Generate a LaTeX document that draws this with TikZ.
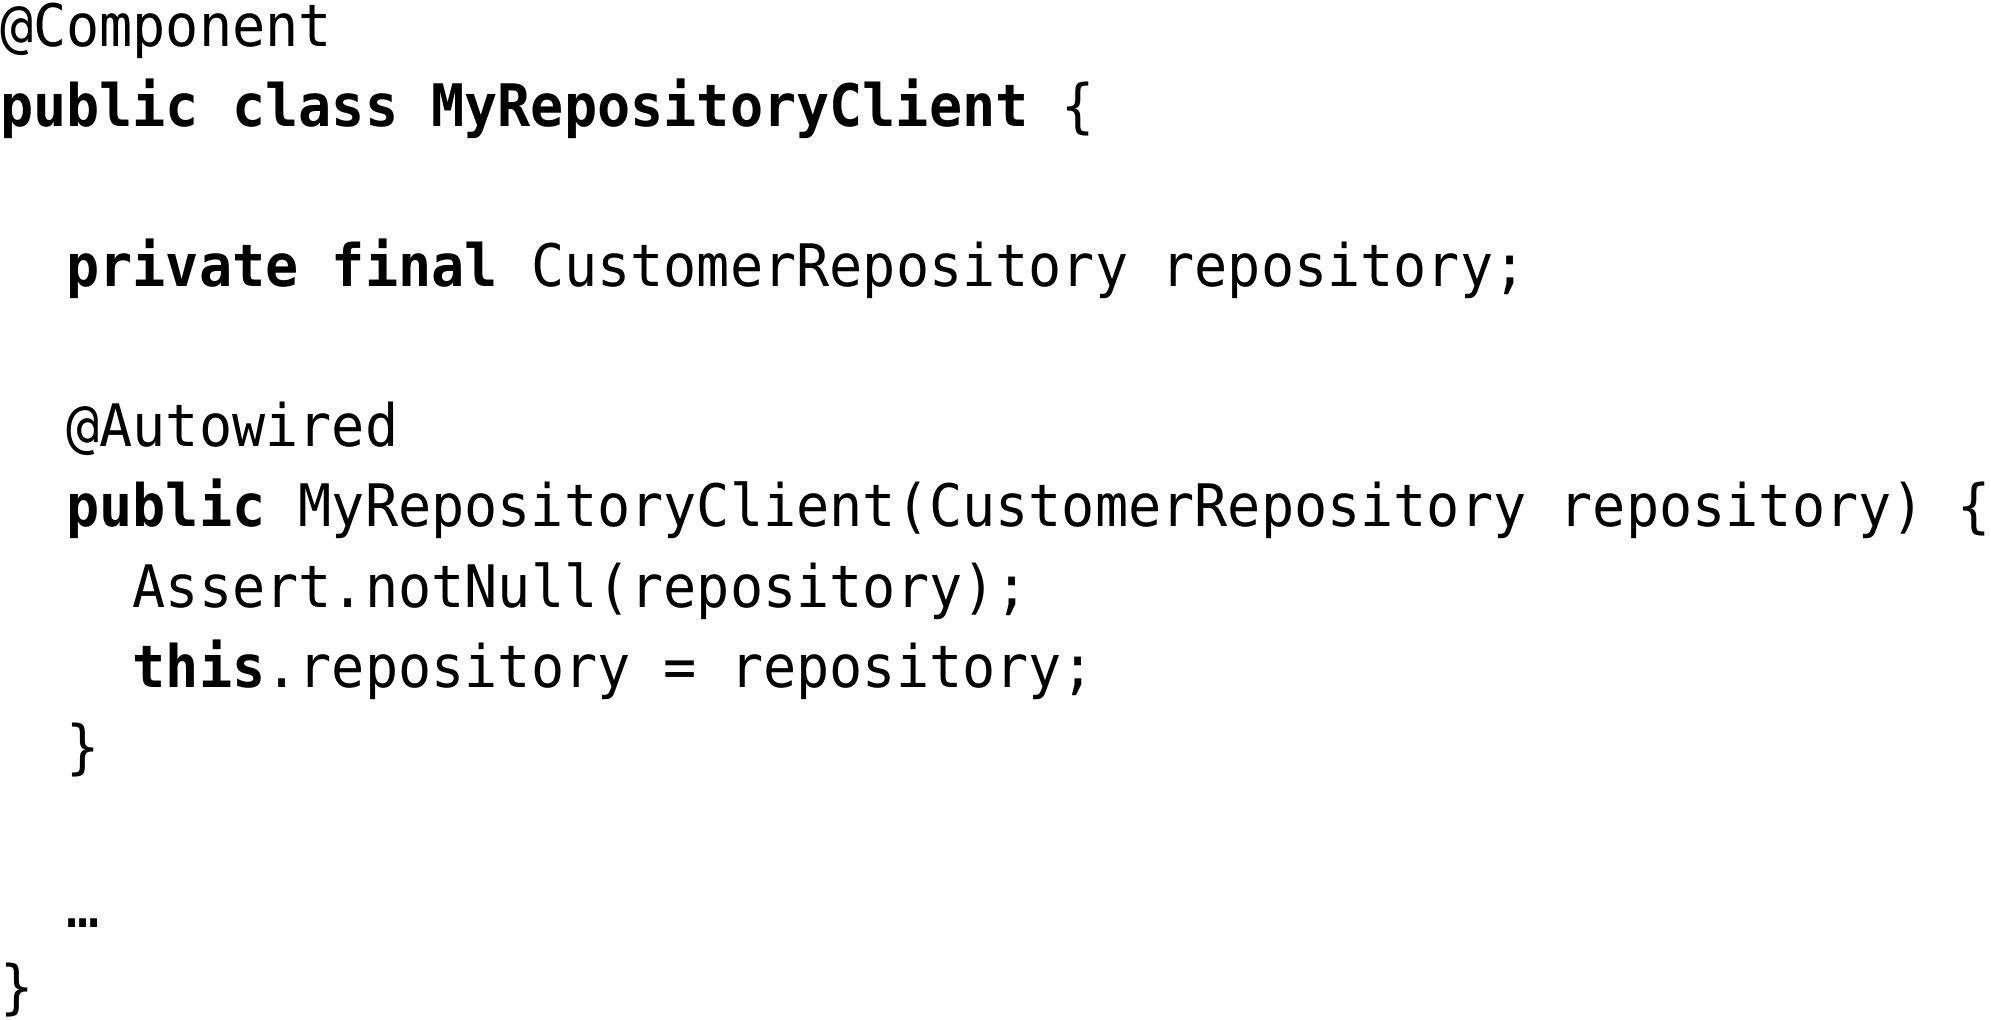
\documentclass[tikz,border=0pt]{standalone}
\usepackage{fontspec}
\newfontfamily\codefont{DejaVu Sans Mono}[FakeStretch=0.941]
\tikzset{
  codeline/.style={anchor=base west, inner sep=0pt, outer sep=0pt, font=\codefont\fontsize{29.29}{40}\selectfont},
}
\begin{document}
\begin{tikzpicture}[x=0.5pt,y=-0.5pt]
\useasboundingbox (0,0) rectangle (1991,1020);
\def\cw{33.2}
\node[codeline] (l1)  at (0,46.7)            {@Component};
\node[codeline] (l2)  at (0,126.75)          {\bfseries public class MyRepositoryClient\mdseries{} \{};
\node[codeline] (l4)  at (2*\cw,286.85)      {\bfseries private final\mdseries{} CustomerRepository repository;};
\node[codeline] (l6)  at (2*\cw,446.95)      {@Autowired};
\node[codeline] (l7)  at (2*\cw,527.0)       {\bfseries public\mdseries{} MyRepositoryClient(CustomerRepository repository) \{};
\node[codeline] (l8)  at (4*\cw,607.05)      {Assert.notNull(repository);};
\node[codeline] (l9)  at (4*\cw,687.1)       {\bfseries this\mdseries.repository = repository;};
\node[codeline] (l10) at (2*\cw,767.15)      {\}};
\node[codeline] (l12) at (2*\cw,927.25)      {…};
\node[codeline] (l13) at (0,1007.3)          {\}};
\end{tikzpicture}
\end{document}
